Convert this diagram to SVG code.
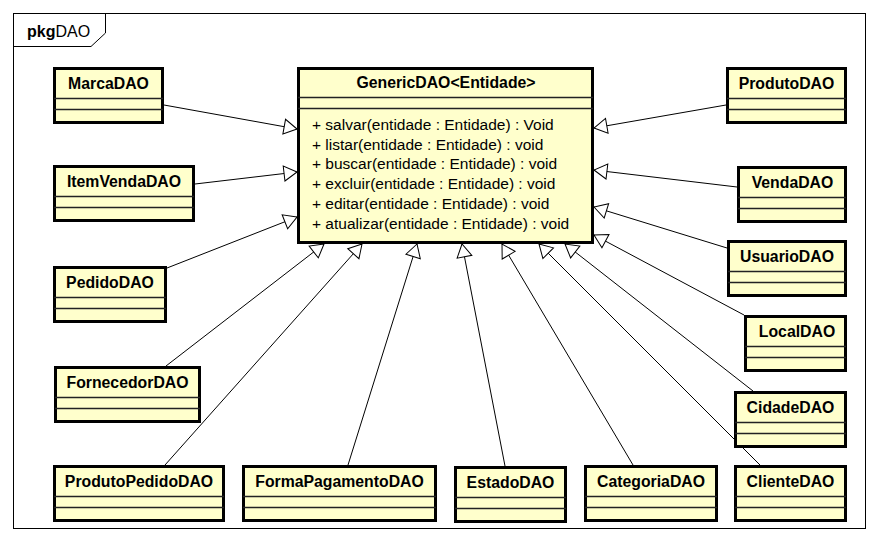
<svg xmlns="http://www.w3.org/2000/svg" width="880" height="542" viewBox="0 0 880 542">
<defs>
<style>
.box{fill:#FFFFCC;stroke:#000;stroke-width:3}
.div{stroke:#222;stroke-width:1.3}
.t{font-family:"Liberation Sans",Arial,sans-serif;font-size:15.8px;font-weight:bold;text-anchor:middle;fill:#000}
.m{font-family:"Liberation Sans",Arial,sans-serif;font-size:15.5px;fill:#000}
.c{stroke:#000;stroke-width:1;fill:none;marker-end:url(#gen)}
</style>
<marker id="gen" markerUnits="userSpaceOnUse" markerWidth="18" markerHeight="18" viewBox="-15 -9 17 18" refX="0" refY="0" orient="auto" overflow="visible">
<path d="M0,0 L-13,-7.5 L-13,7.5 Z" fill="#fff" stroke="#000" stroke-width="1"/>
</marker>
</defs>
<rect width="880" height="542" fill="#fff"/>
<g id="package">
<rect x="13.5" y="13.5" width="852" height="515" fill="none" stroke="#000" stroke-width="1"/>
<path d="M13.5,46.5 H91 L105.5,33 V13.5" fill="none" stroke="#000" stroke-width="1"/>
<text x="27" y="37" font-family="Liberation Sans,Arial,sans-serif" font-size="16"><tspan font-weight="bold">pkg</tspan><tspan>DAO</tspan></text>
</g>
<g id="connectors">
<line class="c" x1="164" y1="105" x2="297" y2="129"/>
<line class="c" x1="195" y1="184" x2="297" y2="172"/>
<line class="c" x1="167" y1="268" x2="297" y2="217"/>
<line class="c" x1="166" y1="366" x2="324" y2="244"/>
<line class="c" x1="165" y1="465" x2="362" y2="244"/>
<line class="c" x1="348" y1="465" x2="417" y2="244"/>
<line class="c" x1="505" y1="466" x2="462" y2="244"/>
<line class="c" x1="633" y1="465" x2="502" y2="244"/>
<line class="c" x1="760" y1="465" x2="539" y2="244"/>
<line class="c" x1="753" y1="391" x2="565" y2="244"/>
<line class="c" x1="744" y1="315" x2="594" y2="235"/>
<line class="c" x1="727" y1="248" x2="594" y2="207"/>
<line class="c" x1="737" y1="187" x2="594" y2="170"/>
<line class="c" x1="726" y1="105" x2="594" y2="128"/>
</g>
<g id="GenericDAO">
<rect class="box" x="298.5" y="68.5" width="294" height="174"/>
<line class="div" x1="298" y1="97.5" x2="593" y2="97.5"/>
<line class="div" x1="298" y1="108.5" x2="593" y2="108.5"/>
<text class="t" x="446" y="88">GenericDAO&lt;Entidade&gt;</text>
<text class="m" x="312" y="130">+ salvar(entidade : Entidade) : Void</text>
<text class="m" x="312" y="149.7">+ listar(entidade : Entidade) : void</text>
<text class="m" x="312" y="169.4">+ buscar(entidade : Entidade) : void</text>
<text class="m" x="312" y="189.1">+ excluir(entidade : Entidade) : void</text>
<text class="m" x="312" y="208.8">+ editar(entidade : Entidade) : void</text>
<text class="m" x="312" y="228.5">+ atualizar(entidade : Entidade) : void</text>
</g>
<g id="MarcaDAO">
<rect class="box" x="54.5" y="68.5" width="108" height="54"/>
<line class="div" x1="54" y1="98.5" x2="163" y2="98.5"/><line class="div" x1="54" y1="109.5" x2="163" y2="109.5"/>
<text class="t" x="108.5" y="89">MarcaDAO</text>
</g>
<g id="ItemVendaDAO">
<rect class="box" x="54.5" y="166.5" width="139" height="54"/>
<line class="div" x1="54" y1="196.5" x2="194" y2="196.5"/><line class="div" x1="54" y1="207.5" x2="194" y2="207.5"/>
<text class="t" x="124" y="187">ItemVendaDAO</text>
</g>
<g id="PedidoDAO">
<rect class="box" x="54.5" y="267.5" width="111" height="54"/>
<line class="div" x1="54" y1="297.5" x2="166" y2="297.5"/><line class="div" x1="54" y1="308.5" x2="166" y2="308.5"/>
<text class="t" x="110" y="288">PedidoDAO</text>
</g>
<g id="FornecedorDAO">
<rect class="box" x="55.5" y="367.5" width="144" height="54"/>
<line class="div" x1="55" y1="397.5" x2="200" y2="397.5"/><line class="div" x1="55" y1="408.5" x2="200" y2="408.5"/>
<text class="t" x="127.5" y="388">FornecedorDAO</text>
</g>
<g id="ProdutoPedidoDAO">
<rect class="box" x="54.5" y="466.5" width="169" height="54"/>
<line class="div" x1="54" y1="496.5" x2="224" y2="496.5"/><line class="div" x1="54" y1="507.5" x2="224" y2="507.5"/>
<text class="t" x="139" y="487">ProdutoPedidoDAO</text>
</g>
<g id="FormaPagamentoDAO">
<rect class="box" x="243.5" y="466.5" width="192" height="54"/>
<line class="div" x1="243" y1="496.5" x2="436" y2="496.5"/><line class="div" x1="243" y1="507.5" x2="436" y2="507.5"/>
<text class="t" x="339.5" y="487">FormaPagamentoDAO</text>
</g>
<g id="EstadoDAO">
<rect class="box" x="455.5" y="467.5" width="110" height="54"/>
<line class="div" x1="455" y1="497.5" x2="566" y2="497.5"/><line class="div" x1="455" y1="508.5" x2="566" y2="508.5"/>
<text class="t" x="510.5" y="488">EstadoDAO</text>
</g>
<g id="CategoriaDAO">
<rect class="box" x="585.5" y="466.5" width="131" height="54"/>
<line class="div" x1="585" y1="496.5" x2="717" y2="496.5"/><line class="div" x1="585" y1="507.5" x2="717" y2="507.5"/>
<text class="t" x="651" y="487">CategoriaDAO</text>
</g>
<g id="ClienteDAO">
<rect class="box" x="735.5" y="466.5" width="110" height="54"/>
<line class="div" x1="735" y1="496.5" x2="846" y2="496.5"/><line class="div" x1="735" y1="507.5" x2="846" y2="507.5"/>
<text class="t" x="790.5" y="487">ClienteDAO</text>
</g>
<g id="CidadeDAO">
<rect class="box" x="735.5" y="392.5" width="110" height="54"/>
<line class="div" x1="735" y1="422.5" x2="846" y2="422.5"/><line class="div" x1="735" y1="433.5" x2="846" y2="433.5"/>
<text class="t" x="790.5" y="413">CidadeDAO</text>
</g>
<g id="LocalDAO">
<rect class="box" x="745.5" y="316.5" width="100" height="54"/>
<line class="div" x1="745" y1="346.5" x2="846" y2="346.5"/><line class="div" x1="745" y1="357.5" x2="846" y2="357.5"/>
<text class="t" x="797" y="337">LocalDAO</text>
</g>
<g id="UsuarioDAO">
<rect class="box" x="728.5" y="241.5" width="117" height="54"/>
<line class="div" x1="728" y1="271.5" x2="846" y2="271.5"/><line class="div" x1="728" y1="282.5" x2="846" y2="282.5"/>
<text class="t" x="787" y="262">UsuarioDAO</text>
</g>
<g id="VendaDAO">
<rect class="box" x="738.5" y="167.5" width="107" height="54"/>
<line class="div" x1="738" y1="197.5" x2="846" y2="197.5"/><line class="div" x1="738" y1="208.5" x2="846" y2="208.5"/>
<text class="t" x="792.5" y="188">VendaDAO</text>
</g>
<g id="ProdutoDAO">
<rect class="box" x="727.5" y="68.5" width="118" height="54"/>
<line class="div" x1="727" y1="98.5" x2="846" y2="98.5"/><line class="div" x1="727" y1="109.5" x2="846" y2="109.5"/>
<text class="t" x="786.5" y="89">ProdutoDAO</text>
</g>
</svg>
